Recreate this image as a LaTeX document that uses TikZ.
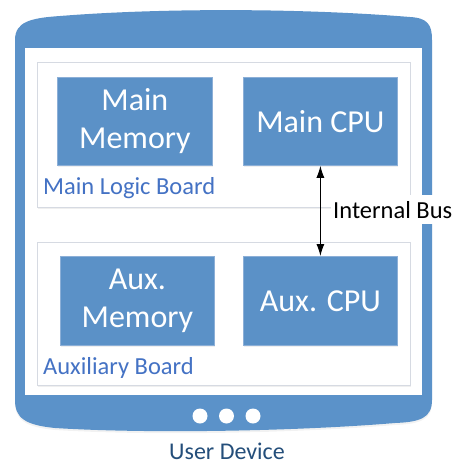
\documentclass[tikz,border=0pt]{standalone}
\usepackage{fontspec}
\setmainfont{Carlito}
\usetikzlibrary{arrows.meta,shadows}
\definecolor{devblue}{RGB}{91,146,201}
\definecolor{boxblue}{RGB}{91,145,199}
\definecolor{boxedge}{RGB}{140,175,215}
\definecolor{panedge}{RGB}{214,218,226}
\definecolor{labblue}{RGB}{68,114,196}
\definecolor{devtext}{RGB}{36,78,122}
\tikzset{
  panel/.style={draw=panedge, line width=1pt, fill=white,
    drop shadow={opacity=0.12, shadow xshift=1pt, shadow yshift=-2pt}},
  unit/.style={draw=boxedge, line width=0.8pt, fill=boxblue, text=white,
    anchor=north west, align=center, inner sep=0pt,
    font=\fontsize{32}{38}\selectfont,
    drop shadow={opacity=0.12, shadow xshift=1pt, shadow yshift=-2pt}},
  boardlabel/.style={text=labblue, anchor=base west, inner sep=0pt,
    font=\fontsize{24.5}{29}\selectfont},
  buslabel/.style={fill=white, anchor=base west, inner xsep=2pt, inner ysep=6pt,
    font=\fontsize{24.5}{29}\selectfont},
  bus/.style={line width=1pt, {Latex[length=12pt,width=8pt]}-{Latex[length=12pt,width=8pt]}},
  dot/.style={circle, fill=white, minimum size=15pt, inner sep=0pt}
}
\begin{document}
\begin{tikzpicture}[x=1pt, y=-1pt]
\useasboundingbox (0,0) rectangle (455,464);
% device body
\fill[devblue, drop shadow={opacity=0.10, shadow xshift=0pt, shadow yshift=-2pt}]
  (15,40) .. controls (15,22) and (30,18) .. (60,16)
  .. controls (160,8) and (300,8) .. (410,17)
  .. controls (428,18) and (432,25) .. (432,40)
  -- (432,400)
  .. controls (432,418) and (420,422) .. (395,423)
  .. controls (300,431) and (150,434) .. (55,428)
  .. controls (25,425) and (15,418) .. (15,400) -- cycle;
% screen
\fill[white] (25,48) rectangle (422,395);
% boards
\draw[panel] (37,62) rectangle (410,207);
\draw[panel] (37,242) rectangle (410,385);
% units
\node[unit, minimum width=155pt, minimum height=88pt] (mmem) at (57,77) {Main\\Memory};
\node[unit, minimum width=154pt, minimum height=88pt] (mcpu) at (243,77) {Main CPU};
\node[unit, minimum width=154pt, minimum height=89pt] (amem) at (60,256) {Aux.\\Memory};
\node[unit, minimum width=154pt, minimum height=89pt] (acpu) at (243,256) {Aux. CPU};
% board labels
\node[boardlabel] (mlb) at (43,194) {Main Logic Board};
\node[boardlabel] (alb) at (43,374) {Auxiliary Board};
% bus
\node[buslabel] (busl) at (331,218) {Internal Bus};
\draw[bus] (mcpu.south) -- (acpu.north);
% buttons
\node[dot] (d1) at (200,416) {};
\node[dot] (d2) at (226.5,416) {};
\node[dot] (d3) at (253,416) {};
% device caption
\node[text=devtext, anchor=base, inner sep=0pt, font=\fontsize{24}{29}\selectfont] (cap) at (227,459) {User Device};
\end{tikzpicture}
\end{document}
